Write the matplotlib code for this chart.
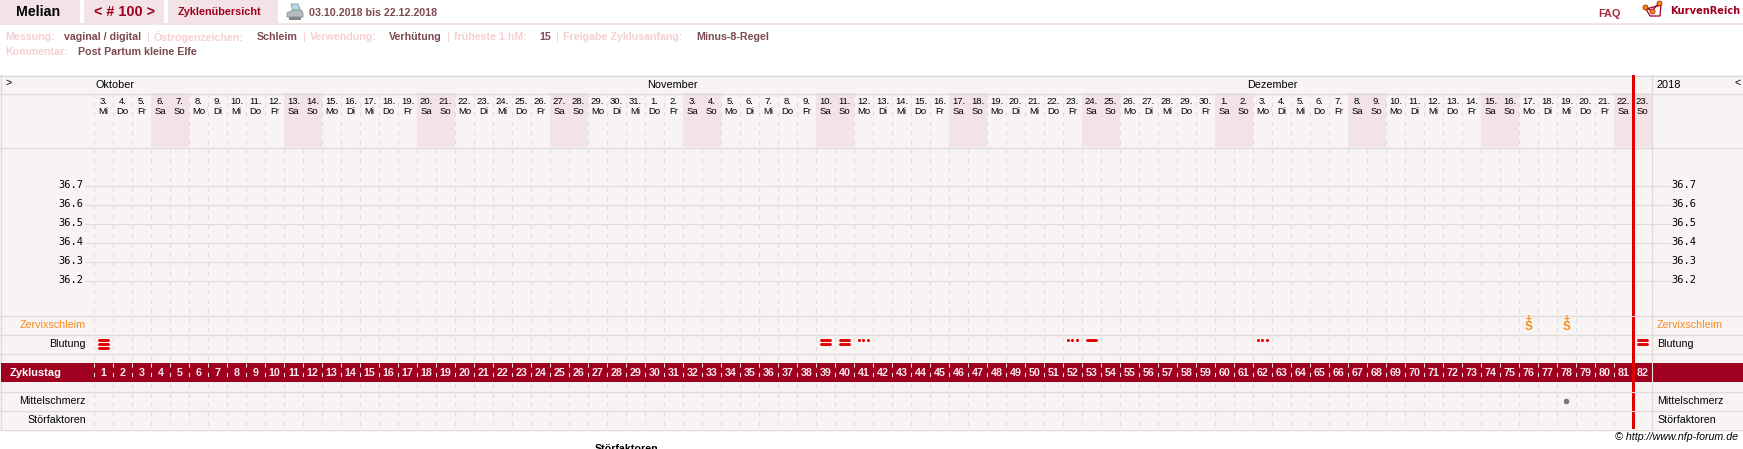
import matplotlib
matplotlib.use('Agg')
import matplotlib.pyplot as plt
from matplotlib.patches import Polygon, Rectangle

# calendar of the cycle, one entry per column
day_numbers = [3, 4, 5, 6, 7, 8, 9, 10, 11, 12, 13, 14, 15, 16, 17, 18, 19, 20, 21, 22, 23, 24, 25, 26, 27, 28, 29, 30, 31,
               1, 2, 3, 4, 5, 6, 7, 8, 9, 10, 11, 12, 13, 14, 15, 16, 17, 18, 19, 20, 21, 22, 23, 24, 25, 26, 27, 28, 29, 30,
               1, 2, 3, 4, 5, 6, 7, 8, 9, 10, 11, 12, 13, 14, 15, 16, 17, 18, 19, 20, 21, 22, 23]
weekdays = ['Mi', 'Do', 'Fr', 'Sa', 'So', 'Mo', 'Di'] * 11 + ['Mi', 'Do', 'Fr', 'Sa', 'So']
cycle_days = list(range(1, 83))
months = ['Oktober', 'November', 'Dezember']
temp_ticks = [36.7, 36.6, 36.5, 36.4, 36.3, 36.2]

# entries per row, by cycle day
bleed_heavy = [1]
bleed_medium = [39, 40, 82]
bleed_light = [53]
bleed_spot = [41, 52, 62]
mucus_days = [76, 78]
pain_days = [78]
today_col = 81

BG = '#f9f4f4'
GRID = '#dedbd9'
PINK = '#f3e3e6'
DARK_RED = '#a00020'
RED = '#e00000'
ORANGE = '#f58a1f'

W, H = 1743, 449
COL0 = 94
COLW = 19
RIGHT = COL0 + COLW * 82
MONTH_X = [96, 647, 1247]

plt.rcParams['font.family'] = ['Liberation Sans', 'DejaVu Sans']
fig = plt.figure(figsize=(W / 100, H / 100), dpi=100)
ax = fig.add_axes([0, 0, 1, 1])
ax.set_xlim(0, W)
ax.set_ylim(H, 0)
ax.axis('off')


def col_center(day):
    return COL0 + COLW * (day - 0.5)


def temp_y(t):
    return 185 + (36.7 - t) * 190


def label(x, y, s, size=7.7, color='black', ha='left', **kw):
    ax.text(x, y, s, fontsize=size, color=color, ha=ha, va='center', **kw)


# page head
for x0, x1 in [(0, 80), (84, 164), (168, 278)]:
    ax.add_patch(Rectangle((x0, 0), x1 - x0, 23, fc=PINK, ec='none'))
ax.add_patch(Rectangle((0, 23), W, 2, fc=PINK, ec='none'))
label(16, 12.5, 'Melian', size=10.2, weight='bold')
label(125, 12.5, '< # 100 >', size=10.4, color=DARK_RED, ha='center', weight='bold')
label(219, 12, 'Zyklenübersicht', size=7.8, color=DARK_RED, ha='center', weight='bold')
label(309, 12.5, '03.10.2018 bis 22.12.2018', size=7.7, color='#7d4a52', weight='bold')
label(1598, 14, 'FAQ', size=7.8, color='#a8283c', weight='bold')
label(1670, 10.5, 'KurvenReich', size=7.1, color=DARK_RED, weight='bold', family='DejaVu Sans')

# printer symbol
ax.add_patch(Polygon([(291, 4), (298, 4), (301, 12), (293, 12)], fc='#b8d8ec', ec='#7c98a8', lw=0.6))
ax.add_patch(Polygon([(287, 13), (293, 10), (301, 10), (303, 13), (303, 17), (287, 17)], fc='#b4babd', ec='#8a9195', lw=0.6))
ax.add_patch(Rectangle((289, 17), 12, 3, fc='#7f868a', ec='none'))

# logo
ax.plot([1646, 1650, 1660, 1661, 1646], [9, 16, 16, 5, 9], color=DARK_RED, lw=0.9)
ax.plot([1645, 1652, 1659], [7, 11, 3], color=DARK_RED, lw=0.9)
ax.plot([1645, 1652, 1659], [7, 11, 3], 'o', ms=3.6, mfc='#f09000', mec=DARK_RED, mew=0.5)

# settings lines
info_labels = [(5, 'Messung:'), (154, 'Östrogenzeichen:'), (310, 'Verwendung:'), (454, 'früheste 1.hM:'),
               (563, 'Freigabe Zyklusanfang:'), (5, 'Kommentar:')]
info_values = [(64, 'vaginal / digital'), (257, 'Schleim'), (389, 'Verhütung'), (539, '15'), (696, 'Minus-8-Regel'),
               (78, 'Post Partum kleine Elfe')]
info_rows = [37, 37, 37, 37, 37, 52]
for (xl, tl), (xv, tv), y in zip(info_labels, info_values, info_rows):
    label(xl, y, tl, color='#f5cfd2', weight='bold')
    label(xv, y, tv, color='#7d4a52', weight='bold')
for x in [147, 303, 447, 556]:
    label(x, 37, '|', color='#f5cfd2')

# table body
ax.add_patch(Rectangle((0, 75), W, 354, fc=BG, ec='none', zorder=0))

# day columns
for i in range(82):
    x = COL0 + COLW * i + 0.5
    ax.plot([x, x], [93, 429], color=GRID, lw=0.75, dashes=(4, 5), zorder=1)

# weekend cells in the date header
for i, wd in enumerate(weekdays):
    if wd in ('Sa', 'So'):
        ax.add_patch(Rectangle((COL0 + COLW * i, 93), COLW, 54, fc=PINK, ec='none', zorder=1.5))

# rows
for y in [75, 93, 147, 315, 334, 353, 391, 410, 429]:
    ax.plot([0, W], [y + 0.5, y + 0.5], color=GRID, lw=1.0, zorder=2)
ax.plot([1, 1], [75, 429], color=GRID, lw=1.0, zorder=2)
ax.plot([RIGHT, RIGHT], [75, 429], color=GRID, lw=0.9, zorder=2)

# temperature scale
for t in temp_ticks:
    y = temp_y(t)
    ax.plot([85, RIGHT + 18], [y + 0.5, y + 0.5], color=GRID, lw=0.8, zorder=2)
    label(83, y, f'{t:.1f}', size=7.5, ha='right', family='DejaVu Sans Mono')
    label(1696, y, f'{t:.1f}', size=7.5, ha='right', family='DejaVu Sans Mono')

# month row and date header
label(6, 83, '>', size=7.7)
for m, x in zip(months, MONTH_X):
    label(x, 85, m, size=7.8)
label(1657, 85, '2018', size=7.9)
label(1735, 83, '<', size=7.7)
for i, (d, wd) in enumerate(zip(day_numbers, weekdays)):
    x = col_center(i + 1)
    label(x, 101.5, f'{d}.', size=6.8, ha='center')
    label(x, 111, wd, size=6.8, ha='center')

# row titles
for y, s in [(325, 'Zervixschleim'), (344, 'Blutung'), (401, 'Mittelschmerz'), (420, 'Störfaktoren')]:
    col = ORANGE if s == 'Zervixschleim' else 'black'
    label(86, y, s, size=7.7, color=col, ha='right')
    label(1657, y, s, size=7.7, color=col)

# cycle day band
ax.add_patch(Rectangle((1, 363), W - 1, 19, fc=DARK_RED, ec='none', zorder=3))
label(10, 372.5, 'Zyklustag', size=7.9, color='white', weight='bold', zorder=4)
for d in cycle_days:
    label(col_center(d), 372.5, str(d), size=7.7, color='#f6e8ea', ha='center', weight='bold', zorder=4)
for i in range(82):
    x = COL0 + COLW * i + 0.5
    ax.plot([x, x], [363, 382], color='#f4e6e6', lw=0.75, dashes=(4, 5), zorder=4)
ax.plot([RIGHT, RIGHT], [363, 382], color='#f4e6e6', lw=0.8, zorder=4)

# bleeding marks
bar = dict(color=RED, lw=2.1, solid_capstyle='round', zorder=5)
for d in bleed_heavy:
    x = col_center(d)
    for y in [339.5, 343.5, 347.5]:
        ax.plot([x - 4.5, x + 4.5], [y, y], **bar)
for d in bleed_medium:
    x = col_center(d)
    for y in [339.5, 343.5]:
        ax.plot([x - 4.5, x + 4.5], [y, y], **bar)
for d in bleed_light:
    x = col_center(d)
    ax.plot([x - 4.5, x + 4.5], [339.5, 339.5], **bar)
for d in bleed_spot:
    x = col_center(d)
    ax.plot([x - 4.2, x, x + 4.2], [339.5, 339.5, 339.5], 'o', color=RED, ms=2.2, mew=0, zorder=5)

# mucus marks
for d in mucus_days:
    x = col_center(d)
    label(x, 327, 'S', size=8.4, color=ORANGE, ha='center', weight='bold', zorder=5)
    label(x, 319, '+', size=7.5, color=ORANGE, ha='center', weight='bold', zorder=5)

# mittelschmerz
for d in pain_days:
    ax.plot(col_center(d), 400.5, 'o', color='#777777', ms=4, mew=0, zorder=5)

# end of the cycle
red_x = COL0 + COLW * today_col - 1
ax.add_patch(Rectangle((red_x, 75), 3, 354, fc=RED, ec='none', zorder=6))
for y in [315, 391, 410]:
    ax.plot([red_x, red_x + 3], [y + 0.5, y + 0.5], color=GRID, lw=0.8, zorder=7)

label(1738, 437, '© http://www.nfp-forum.de', size=7.7, ha='right', style='italic')
label(595, 449, 'Störfaktoren', size=7.7, weight='bold')

fig.savefig('out.png', dpi=100, facecolor='white')
